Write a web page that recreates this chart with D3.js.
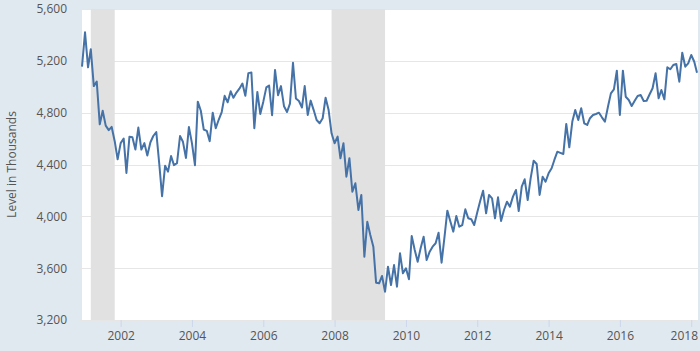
<!DOCTYPE html>
<html>
<head>
<meta charset="utf-8">
<script src="https://cdn.jsdelivr.net/npm/d3@7/dist/d3.min.js"></script>
<style>
  html, body { margin: 0; padding: 0; background: #e1e9f0; }
  svg { display: block; }
  text { font-family: "Open Sans", "Noto Sans", sans-serif; }
</style>
</head>
<body>
<svg id="chart" width="700" height="351"></svg>
<script>
// ---- data (monthly, starting December 2000; level in thousands) ----
const startMonth = "2000-12-01";
const hires = [
  5155, 5420, 5150, 5290, 5005, 5040, 4710, 4815, 4700, 4665, 4690, 4580, 4440,
  4565, 4600, 4335, 4615, 4610, 4515, 4685, 4515, 4565, 4470, 4570, 4620,
  4650, 4400, 4155, 4390, 4345, 4465, 4395, 4410, 4620, 4575, 4450, 4690,
  4565, 4395, 4885, 4815, 4670, 4660, 4580, 4800, 4680, 4745, 4805, 4930,
  4880, 4965, 4915, 4955, 4985, 5025, 4930, 5105, 5110, 4680, 4960, 4790,
  4885, 4995, 5010, 4780, 5130, 4935, 5005, 4850, 4805, 4870, 5185, 4910,
  4890, 4840, 5005, 4782, 4893, 4820, 4743, 4718, 4757, 4915, 4820, 4641,
  4564, 4615, 4448, 4564, 4306, 4448, 4190, 4255, 4049, 4165, 3688, 3958,
  3856, 3766, 3488, 3483, 3540, 3418, 3611, 3470, 3624, 3457, 3715, 3560,
  3599, 3514, 3848, 3740, 3650, 3756, 3843, 3663, 3727, 3766, 3792, 3874,
  3642, 3850, 4044, 3960, 3882, 4003, 3920, 3933, 4054, 3985, 3977, 3933,
  4030, 4120, 4198, 4023, 4165, 4139, 3985, 4147, 3964, 4049, 4113, 4075,
  4152, 4203, 4041, 4229, 4286, 4126, 4293, 4429, 4404, 4165, 4306, 4267,
  4332, 4371, 4435, 4499, 4490, 4481, 4713, 4533, 4731, 4820, 4743, 4834,
  4718, 4705, 4757, 4782, 4790, 4800, 4764, 4731, 4846, 4949, 4980, 5124,
  4782, 5124, 4923, 4898, 4851, 4892, 4929, 4936, 4890, 4892, 4942, 4988,
  5104, 4911, 4975, 4903, 5150, 5135, 5168, 5176, 5039, 5263, 5155, 5181,
  5245, 5193, 5108
];
const recessionStarts = ["2001-03-01", "2007-12-01"];
const recessionEnds   = ["2001-11-01", "2009-06-01"];
const yTicks = [3200, 3600, 4000, 4400, 4800, 5200, 5600];
const xTickYears = [2002, 2004, 2006, 2008, 2010, 2012, 2014, 2016, 2018];
const yAxisTitle = "Level in Thousands";

// ---- layout ----
const W = 700, H = 351;
const plot = { left: 82, right: 697, top: 9, bottom: 320 };

const parse = d3.timeParse("%Y-%m-%d");
const t0 = parse(startMonth);
const data = hires.map((v, i) => ({ date: d3.timeMonth.offset(t0, i), value: v }));

const x = d3.scaleTime()
  .domain([data[0].date, data[data.length - 1].date])
  .range([plot.left, plot.right]);
const y = d3.scaleLinear()
  .domain([3200, 5600])
  .range([plot.bottom, plot.top]);

const svg = d3.select("#chart");

// background
svg.append("rect").attr("x", 0).attr("y", 0).attr("width", W).attr("height", H).attr("fill", "#e1e9f0");
// plot area
svg.append("rect")
  .attr("x", plot.left).attr("y", plot.top)
  .attr("width", 698 - plot.left).attr("height", plot.bottom - plot.top)
  .attr("fill", "#ffffff");

// grid lines
svg.append("g").selectAll("line").data(yTicks).join("line")
  .attr("x1", 80).attr("x2", 698)
  .attr("y1", d => Math.round(y(d)) + 0.5).attr("y2", d => Math.round(y(d)) + 0.5)
  .attr("stroke", "#e6e6e6").attr("stroke-width", 1);

// recession shading
const rec = recessionStarts.map((s, i) => ({ s: parse(s), e: parse(recessionEnds[i]) }));
svg.append("g").selectAll("rect").data(rec).join("rect")
  .attr("x", d => x(d.s)).attr("width", d => x(d.e) - x(d.s))
  .attr("y", plot.top).attr("height", plot.bottom - plot.top)
  .attr("fill", "#e1e1e1");

// x axis ticks
const xTickDates = xTickYears.map(yr => new Date(yr, 0, 1));
const xAxis = d3.axisBottom(x).tickValues(xTickDates).tickFormat(d3.timeFormat("%Y")).tickSize(7).tickPadding(4);
const gx = svg.append("g").attr("transform", `translate(0,${plot.bottom})`).call(xAxis);
gx.select(".domain").remove();
gx.selectAll(".tick line").attr("stroke", "#ccd6eb");
gx.selectAll(".tick text").attr("fill", "#555").style("font-size", "12px")
  .style("font-family", '"Open Sans", sans-serif');
// keep the last label inside the chart (right edge aligned)
gx.selectAll(".tick text").each(function(d) {
  const tx = x(d);
  const w = this.getComputedTextLength();
  const maxRight = 697.5;
  if (tx + w / 2 > maxRight) d3.select(this).attr("x", maxRight - w / 2 - tx);
});

// y axis labels
const yAxis = d3.axisLeft(y).tickValues(yTicks).tickFormat(d3.format(",")).tickSize(0).tickPadding(15);
const gy = svg.append("g").attr("transform", `translate(${plot.left},0)`).call(yAxis);
gy.select(".domain").remove();
gy.selectAll(".tick text").attr("fill", "#555").style("font-size", "12px")
  .style("font-family", '"Open Sans", sans-serif');

// y axis title
svg.append("text")
  .attr("transform", `translate(16,${(plot.top + plot.bottom) / 2}) rotate(-90)`)
  .attr("text-anchor", "middle")
  .attr("fill", "#555")
  .style("font-size", "12px")
  .text(yAxisTitle);

// line
const line = d3.line().x(d => x(d.date)).y(d => y(d.value));
svg.append("path").datum(data)
  .attr("d", line)
  .attr("fill", "none")
  .attr("stroke", "#4572a7")
  .attr("stroke-width", 2)
  .attr("stroke-linejoin", "round");
</script>
</body>
</html>
